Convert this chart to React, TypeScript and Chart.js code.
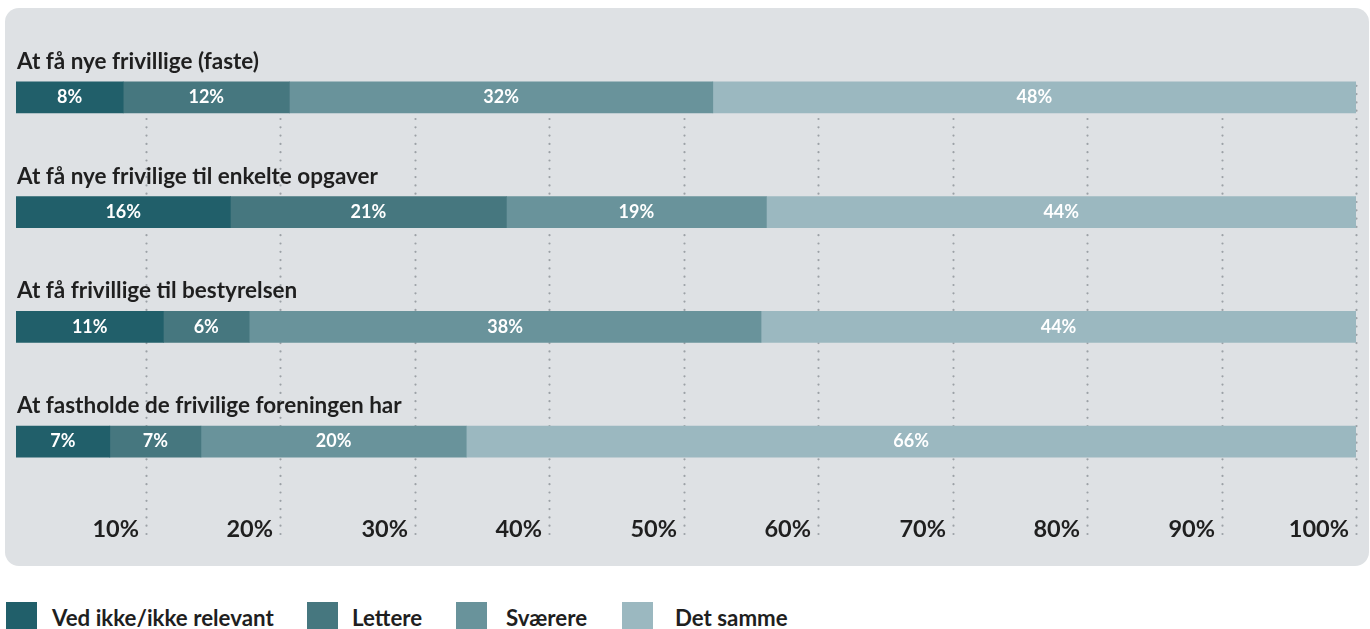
import React, { useEffect, useRef } from "react";
import { Chart, registerables } from "chart.js";

Chart.register(...registerables);

const categories = [
  "At få nye frivillige (faste)",
  "At få nye frivilige til enkelte opgaver",
  "At få frivillige til bestyrelsen",
  "At fastholde de frivilige foreningen har",
];

const seriesNames = ["Ved ikke/ikke relevant", "Lettere", "Sværere", "Det samme"];
const vedIkke = [8, 16, 11, 7];
const lettere = [12.4, 20.6, 6.4, 6.8];
const svaerere = [31.6, 19.4, 38.2, 19.8];
const detSamme = [48, 44, 44.4, 66.4];

const tickValues = [10, 20, 30, 40, 50, 60, 70, 80, 90, 100];
const tickLabels = ["10%", "20%", "30%", "40%", "50%", "60%", "70%", "80%", "90%", "100%"];

const colors = ["#215f6a", "#46777f", "#69939b", "#9bb8c0"];
const FONT = "Lato, 'Open Sans', sans-serif";

const overlay = {
  id: "overlay",
  beforeDatasetsDraw(chart: any) {
    const ctx = chart.ctx;
    const g = chart.scales.x2;
    const first = chart.getDatasetMeta(0).data[0] as any;
    const top = first.y - first.height / 2;
    ctx.save();
    ctx.strokeStyle = "#9ca1a6";
    ctx.lineWidth = 2.2;
    ctx.lineCap = "round";
    ctx.setLineDash([0, 8.3]);
    tickValues.forEach((v) => {
      const x = Math.round(g.getPixelForValue(v)) + 0.5;
      ctx.beginPath();
      ctx.moveTo(x, 534);
      ctx.lineTo(x, top + 2);
      ctx.stroke();
    });
    ctx.restore();
  },
  afterDatasetsDraw(chart: any) {
    const ctx = chart.ctx;
    ctx.save();
    const meta0 = chart.getDatasetMeta(0);
    ctx.fillStyle = "#1f1f1f";
    ctx.font = `bold 22.5px ${FONT}`;
    ctx.textAlign = "left";
    ctx.textBaseline = "alphabetic";
    meta0.data.forEach((el: any, i: number) => {
      const top = el.y - el.height / 2;
      ctx.fillText(categories[i], el.base + 1, top - 13);
    });
    ctx.fillStyle = "#ffffff";
    ctx.font = `bold 18px ${FONT}`;
    ctx.textAlign = "center";
    ctx.textBaseline = "middle";
    chart.data.datasets.forEach((ds: any, di: number) => {
      const meta = chart.getDatasetMeta(di);
      meta.data.forEach((el: any, i: number) => {
        const cx = (el.x + el.base) / 2;
        ctx.fillText(Math.round(ds.data[i]) + "%", cx, el.y);
      });
    });
    const g = chart.scales.x2;
    ctx.fillStyle = "#1f1f1f";
    ctx.font = `bold 23.5px ${FONT}`;
    ctx.textAlign = "right";
    ctx.textBaseline = "alphabetic";
    tickValues.forEach((v, i) => {
      const x = Math.round(g.getPixelForValue(v));
      ctx.fillText(tickLabels[i], x - 7, 537);
    });
    ctx.restore();
  },
};

const legendBoxLeft = [6, 307, 456, 622];
const legendTextLeft = [52, 352, 506, 675];

export default function App() {
  const ref = useRef<HTMLCanvasElement | null>(null);

  useEffect(() => {
    if (!ref.current) return;
    const data = [vedIkke, lettere, svaerere, detSamme];
    const chart = new Chart(ref.current, {
      type: "bar",
      data: {
        labels: categories,
        datasets: data.map((d, i) => ({
          label: seriesNames[i],
          data: d,
          backgroundColor: colors[i],
          borderWidth: 0,
          barThickness: 31,
        })),
      },
      options: {
        indexAxis: "y",
        responsive: false,
        animation: false,
        devicePixelRatio: 1,
        layout: { padding: { left: 16, right: 14, top: 40, bottom: 101 } },
        plugins: {
          legend: { display: false },
          tooltip: { enabled: false },
        },
        scales: {
          x: { type: "linear", stacked: true, min: 0, max: 100, display: false },
          x2: { type: "linear", position: "bottom", min: 0.33, max: 100, display: false },
          y: { type: "category", stacked: true, display: false },
        },
      } as any,
      plugins: [overlay],
    });
    return () => chart.destroy();
  }, []);

  return (
    <div
      style={{
        position: "fixed",
        left: 0,
        top: 0,
        width: 1370,
        height: 629,
        overflow: "hidden",
        background: "#ffffff",
        fontFamily: FONT,
      }}
    >
      <div
        style={{
          position: "absolute",
          left: 5,
          top: 8,
          width: 1364,
          height: 558,
          borderRadius: 14,
          background: "#dee1e4",
        }}
      />
      <canvas
        ref={ref}
        width={1370}
        height={600}
        style={{ position: "absolute", left: 0, top: 0, width: 1370, height: 600 }}
      />
      {seriesNames.map((n, i) => (
        <React.Fragment key={n}>
          <div
            style={{
              position: "absolute",
              left: legendBoxLeft[i],
              top: 602,
              width: 31,
              height: 31,
              background: colors[i],
            }}
          />
          <div
            style={{
              position: "absolute",
              left: legendTextLeft[i],
              top: 603,
              lineHeight: "29px",
              fontWeight: 700,
              fontSize: 22.3,
              color: "#1f1f1f",
              whiteSpace: "nowrap",
            }}
          >
            {n}
          </div>
        </React.Fragment>
      ))}
    </div>
  );
}
